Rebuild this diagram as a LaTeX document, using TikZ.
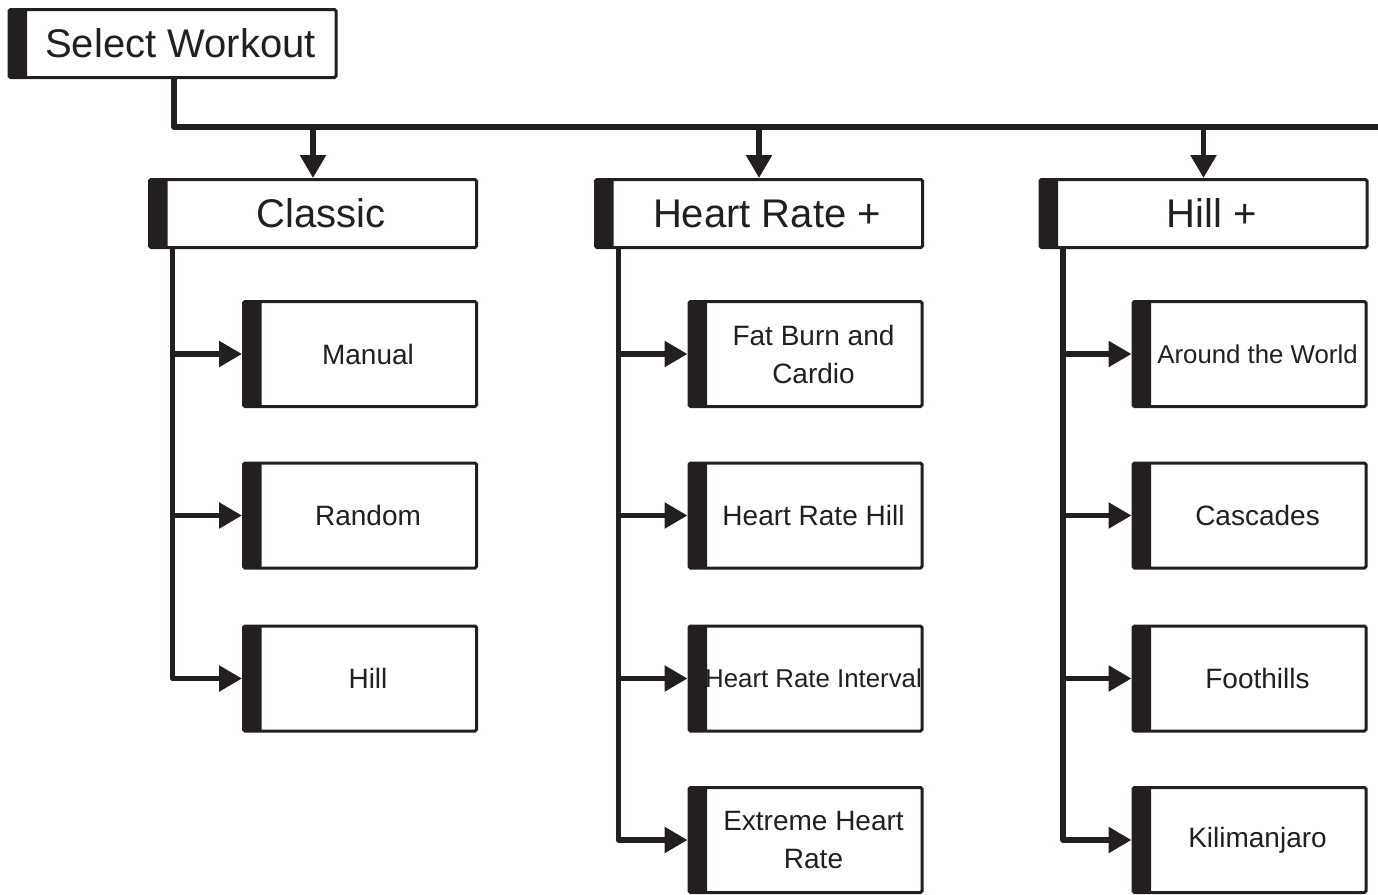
\documentclass[tikz,border=0pt]{standalone}
\usepackage{fontspec}
\setmainfont{Liberation Sans}
\usetikzlibrary{arrows.meta,positioning,calc}
\definecolor{ink}{HTML}{231F20}
\tikzset{
  box/.style={draw=ink, line width=3pt, fill=white, rounded corners=1.5pt, inner sep=0pt,
    path picture={\fill[ink] (path picture bounding box.north west) rectangle ([xshift=18pt]path picture bounding box.south west);}},
  bigbox/.style={box, minimum width=327pt, minimum height=68pt,
    label={[text=ink, font=\fontsize{40}{46}\selectfont, xshift=8pt]center:#1}},
  kidbox/.style={box, minimum width=233pt, minimum height=105pt,
    label={[text=ink, align=center, font=\fontsize{28}{38}\selectfont, xshift=8pt]center:#1}},
  kidboxs/.style={box, minimum width=233pt, minimum height=105pt,
    label={[text=ink, align=center, font=\fontsize{25.8}{38}\selectfont, xshift=8pt]center:#1}},
  conn/.style={draw=ink, line width=5.5pt, line join=round},
  arr/.style={conn, -{Triangle[length=23pt, width=25pt]}}
}
\begin{document}
\begin{tikzpicture}[x=1pt, y=-1pt]
\useasboundingbox (0,0) rectangle (1378,894);
% root
\node[bigbox={Select Workout}] (sel) at (172.5,43.5) {};
% level 2
\node[bigbox={Classic}] (classic) at (313,213.5) {};
\node[bigbox={Heart Rate +}] (heart) at (759,213.5) {};
\node[bigbox={Hill +}] (hillp) at (1203.5,213.5) {};
% classic children
\node[kidbox={Manual}] (manual) at (360,354) {};
\node[kidbox={Random}] (random) at (360,515.5) {};
\node[kidbox={Hill}] (hill) at (360,678.5) {};
% heart rate children
\node[kidbox={Fat Burn and\\Cardio}] (fatburn) at (805.5,354) {};
\node[kidbox={Heart Rate Hill}] (hrhill) at (805.5,515.5) {};
\node[kidboxs={Heart Rate Interval}] (hrint) at (805.5,678.5) {};
\node[kidbox={Extreme Heart\\Rate}] (extreme) at (805.5,840) {};
% hill children
\node[kidboxs={Around the World}] (world) at (1249.5,354) {};
\node[kidbox={Cascades}] (cascades) at (1249.5,515.5) {};
\node[kidbox={Foothills}] (foothills) at (1249.5,678.5) {};
\node[kidbox={Kilimanjaro}] (kili) at (1249.5,840) {};
% bus
\coordinate (t0) at (174,127);
\coordinate (busend) at (1390,127);
\draw[conn] (t0 |- sel.south) -- (t0) -- (busend);
\draw[arr] (t0 -| classic.north) -- (classic.north);
\draw[arr] (t0 -| heart.north) -- (heart.north);
\draw[arr] (t0 -| hillp.north) -- (hillp.north);
% trunks
\coordinate (ct) at ([xshift=24.5pt]classic.south west);
\coordinate (ht) at ([xshift=24.5pt]heart.south west);
\coordinate (lt) at ([xshift=24.5pt]hillp.south west);
\draw[arr] (ct) |- (manual);
\draw[arr] (ct) |- (random);
\draw[arr] (ct) |- (hill);
\draw[arr] (ht) |- (fatburn);
\draw[arr] (ht) |- (hrhill);
\draw[arr] (ht) |- (hrint);
\draw[arr] (ht) |- (extreme);
\draw[arr] (lt) |- (world);
\draw[arr] (lt) |- (cascades);
\draw[arr] (lt) |- (foothills);
\draw[arr] (lt) |- (kili);
\end{tikzpicture}
\end{document}
